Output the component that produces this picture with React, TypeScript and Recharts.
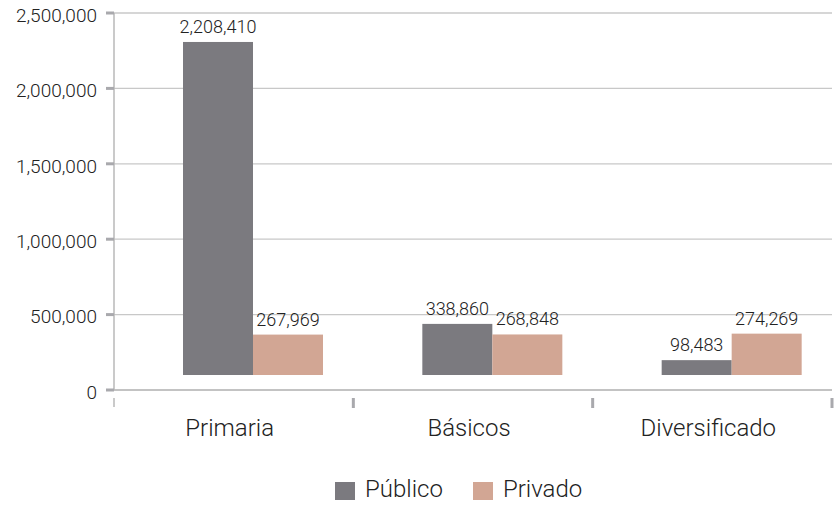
import { Bar, BarChart, CartesianGrid, LabelList, Legend, XAxis, YAxis } from "recharts"

const categories = ["Primaria", "Básicos", "Diversificado"]
const publico = [2208410, 338860, 98483]
const privado = [267969, 268848, 274269]
const yTicks = [0, 500000, 1000000, 1500000, 2000000, 2500000]

const data = categories.map((name, i) => ({
  name,
  publico: publico[i],
  privado: privado[i],
}))

const FONT = "Roboto, 'Open Sans', sans-serif"
const PUBLICO_COLOR = "#7b7a7f"
const PRIVADO_COLOR = "#d2a694"
// the source draws its bars slightly offset (flattened 3D look)
const SHIFT_X = 19
const SHIFT_Y = -15

const fmt = (v: number) => v.toLocaleString("en-US")

function ShiftedBar(props: any) {
  const { x, y, width, height, fill } = props
  return <rect x={x + SHIFT_X} y={y + SHIFT_Y} width={width} height={height} fill={fill} />
}

function BarValue(props: any) {
  const { x, y, width, value } = props
  return (
    <text
      x={x + width / 2 + SHIFT_X}
      y={y + SHIFT_Y - 9}
      textAnchor="middle"
      fontFamily={FONT}
      fontWeight={300}
      fontSize={18}
      fill="#222"
    >
      {fmt(value)}
    </text>
  )
}

function CategoryTick(props: any) {
  const { x, y, payload, index } = props
  const half = payload.offset ?? 0
  return (
    <g>
      {index === 0 && (
        <line x1={x - half} x2={x - half} y1={y} y2={y + 9} stroke="#b8b8b8" strokeWidth={1.5} />
      )}
      <line x1={x + half} x2={x + half} y1={y} y2={y + 10} stroke="#a9a9ad" strokeWidth={3} />
      <text
        x={x - 4}
        y={y + 38}
        textAnchor="middle"
        fontFamily={FONT}
        fontWeight={300}
        fontSize={24}
        fill="#222"
      >
        {payload.value}
      </text>
    </g>
  )
}

function LegendContent() {
  const items = [
    { label: "Público", color: PUBLICO_COLOR },
    { label: "Privado", color: PRIVADO_COLOR },
  ]
  return (
    <div
      style={{
        display: "flex",
        alignItems: "center",
        marginLeft: 335,
        height: 38,
        fontFamily: FONT,
        fontWeight: 300,
        fontSize: 24,
        color: "#222",
      }}
    >
      {items.map((it) => (
        <div key={it.label} style={{ display: "flex", alignItems: "center", marginRight: 30 }}>
          <span
            style={{ width: 20, height: 18, background: it.color, marginRight: 10, marginTop: 4 }}
          />
          <span>{it.label}</span>
        </div>
      ))}
    </div>
  )
}

export default function App() {
  return (
    <div style={{ position: "absolute", left: 0, top: 0, background: "#fff" }}>
      <BarChart
        width={835}
        height={508}
        data={data}
        margin={{ top: 13, right: 3, left: 0, bottom: 30 }}
        barSize={70}
        barGap={0}
      >
        <CartesianGrid vertical={false} stroke="#c8c8c8" strokeWidth={1.3} />
        <XAxis
          dataKey="name"
          height={50}
          axisLine={{ stroke: "#bcbcbc", strokeWidth: 1.5 }}
          tickLine={false}
          tick={<CategoryTick />}
          interval={0}
        />
        <YAxis
          width={114}
          domain={[0, 2500000]}
          ticks={yTicks}
          tickFormatter={fmt}
          axisLine={{ stroke: "#b8b8b8", strokeWidth: 1.5 }}
          tickLine={{ stroke: "#a9a9ad", strokeWidth: 3 }}
          tickSize={8}
          tickMargin={9}
          tick={{ fontFamily: FONT, fontWeight: 300, fontSize: 19, fill: "#222", dy: 2 }}
        />
        <Legend
          verticalAlign="bottom"
          content={<LegendContent />}
          wrapperStyle={{ left: 0, bottom: 0, width: 835, height: 38 }}
        />
        <Bar dataKey="publico" fill={PUBLICO_COLOR} shape={<ShiftedBar />} isAnimationActive={false}>
          <LabelList dataKey="publico" content={<BarValue />} />
        </Bar>
        <Bar dataKey="privado" fill={PRIVADO_COLOR} shape={<ShiftedBar />} isAnimationActive={false}>
          <LabelList dataKey="privado" content={<BarValue />} />
        </Bar>
      </BarChart>
    </div>
  )
}
